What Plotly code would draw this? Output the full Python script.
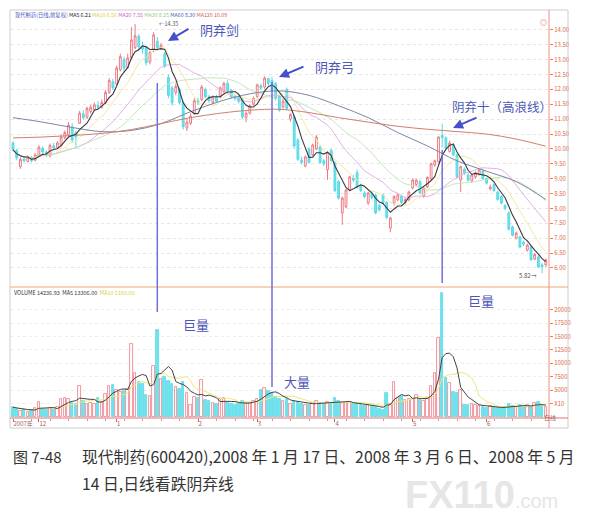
import numpy as np
import pandas as pd
import plotly.graph_objects as go

W, H = 590, 532
FONT = "Noto Sans CJK SC"

# daily bars, 2007-11-22 .. 2008-06 (600420)
opens = [10.20, 9.95, 9.40, 9.66, 9.58, 9.70, 9.62, 9.76, 10.02, 9.90,
         9.76, 10.10, 10.04, 10.12, 10.38, 10.48, 10.74, 10.55, 10.86, 11.18,
         11.06, 11.26, 11.32, 11.46, 11.40, 11.55, 11.90, 12.26, 12.18, 12.66,
         13.00, 12.74, 13.06, 13.40, 13.78, 13.45, 13.40, 12.92, 13.33, 13.62,
         13.40, 13.20, 12.40, 12.05, 11.90, 12.00, 11.55, 10.70, 10.86, 11.20,
         11.62, 11.66, 12.00, 11.75, 11.56, 11.76, 11.74, 11.92, 12.20, 11.98,
         11.76, 11.72, 11.66, 11.05, 11.20, 11.50, 11.76, 12.12, 12.08, 12.36,
         12.30, 12.20, 11.76, 11.40, 12.00, 11.00, 11.08, 10.30, 9.62, 9.42,
         10.00, 9.80, 10.00, 10.06, 9.60, 9.30, 9.95, 9.53, 8.90, 7.85,
         8.05, 8.62, 9.02, 9.20, 8.72, 8.52, 8.18, 8.50, 8.45, 8.10,
         8.45, 8.20, 7.34, 8.18, 8.29, 8.40, 8.20, 8.29, 8.69, 8.80,
         8.90, 8.42, 8.72, 9.00, 9.46, 9.58, 10.45, 10.37, 9.92, 10.15,
         9.80, 8.96, 9.32, 9.12, 8.92, 9.06, 9.14, 9.26, 9.00, 8.66,
         8.80, 8.55, 8.40, 8.10, 7.85, 7.38, 7.00, 7.04, 6.86, 6.60,
         6.70, 6.30, 6.37, 6.10, 6.10]
highs = [10.26, 10.00, 9.72, 9.76, 9.78, 9.76, 9.86, 10.12, 10.08, 9.95,
         10.18, 10.20, 10.26, 10.48, 10.62, 10.90, 10.86, 10.62, 11.28, 11.30,
         11.42, 11.48, 11.56, 11.60, 11.66, 11.98, 12.38, 12.36, 12.80, 13.20,
         13.10, 13.20, 14.10, 14.20, 13.86, 13.60, 13.46, 13.30, 13.92, 13.76,
         13.56, 13.26, 12.50, 12.12, 12.20, 12.06, 11.62, 11.00, 11.20, 11.70,
         11.72, 12.15, 12.06, 11.82, 11.80, 11.82, 12.10, 12.26, 12.30, 12.02,
         11.84, 11.78, 11.72, 11.26, 11.50, 11.76, 12.20, 12.20, 12.44, 12.40,
         12.42, 12.24, 11.80, 11.68, 12.06, 11.20, 11.14, 10.36, 9.74, 9.78,
         10.06, 10.18, 10.47, 10.12, 9.66, 9.92, 10.00, 9.58, 8.96, 8.40,
         8.66, 9.10, 9.12, 9.30, 8.80, 8.58, 8.56, 8.58, 8.50, 8.16,
         8.50, 8.24, 7.72, 8.44, 8.50, 8.46, 8.36, 8.60, 9.00, 9.00,
         8.96, 8.72, 9.08, 9.54, 9.64, 10.42, 10.85, 10.42, 10.28, 10.20,
         9.84, 9.44, 9.38, 9.18, 9.16, 9.24, 9.34, 9.30, 9.04, 8.80,
         8.84, 8.60, 8.44, 8.14, 7.90, 7.42, 7.22, 7.08, 6.92, 6.82,
         6.74, 6.50, 6.42, 6.16, 6.32]
lows = [9.92, 9.62, 9.33, 9.55, 9.54, 9.55, 9.58, 9.72, 9.84, 9.72,
        9.72, 9.98, 10.00, 10.06, 10.32, 10.42, 10.22, 10.05, 10.84, 10.98,
        11.00, 11.18, 11.28, 11.32, 11.35, 11.50, 11.85, 11.98, 12.14, 12.60,
        12.60, 12.70, 13.00, 13.35, 13.30, 13.20, 12.80, 12.84, 13.25, 13.30,
        13.32, 12.72, 11.70, 11.45, 11.80, 11.50, 10.65, 10.60, 10.80, 11.15,
        11.48, 11.60, 11.70, 11.55, 11.50, 11.55, 11.70, 11.88, 11.90, 11.70,
        11.62, 11.52, 11.00, 10.90, 11.15, 11.45, 11.72, 11.98, 12.02, 12.12,
        11.90, 11.62, 11.25, 11.35, 11.30, 10.92, 10.02, 9.60, 9.48, 9.38,
        9.50, 9.76, 9.96, 9.50, 9.42, 8.96, 9.55, 8.55, 8.30, 7.45,
        8.00, 8.58, 8.88, 8.66, 8.55, 8.34, 8.12, 8.30, 7.80, 7.90,
        8.12, 7.64, 7.20, 8.10, 8.24, 8.15, 8.14, 8.24, 8.64, 8.74,
        8.48, 8.36, 8.68, 8.94, 9.40, 9.54, 10.05, 9.96, 9.88, 9.76,
        9.02, 8.55, 9.12, 8.90, 8.86, 9.00, 9.10, 8.96, 8.80, 8.60,
        8.56, 8.26, 8.14, 7.94, 7.26, 7.06, 6.96, 6.66, 6.74, 6.55,
        6.24, 6.26, 6.00, 5.82, 6.04]
closes = [9.97, 9.70, 9.65, 9.60, 9.72, 9.60, 9.80, 10.06, 9.90, 9.78,
          10.12, 10.04, 10.20, 10.40, 10.55, 10.80, 10.30, 10.40, 11.20, 11.05,
          11.36, 11.40, 11.48, 11.40, 11.56, 11.90, 12.30, 12.05, 12.72, 13.10,
          12.72, 13.06, 13.66, 13.80, 13.43, 13.35, 12.90, 13.23, 13.83, 13.40,
          13.48, 12.78, 11.80, 11.55, 12.10, 11.55, 10.75, 10.90, 11.10, 11.62,
          11.55, 12.08, 11.75, 11.62, 11.75, 11.60, 12.05, 12.20, 11.95, 11.75,
          11.70, 11.60, 11.08, 11.20, 11.45, 11.70, 12.15, 12.04, 12.38, 12.20,
          11.98, 11.70, 11.30, 11.60, 11.36, 11.15, 10.10, 9.65, 9.55, 9.73,
          9.55, 10.13, 10.40, 9.55, 9.50, 9.87, 9.60, 8.60, 8.35, 8.35,
          8.62, 9.06, 8.95, 8.72, 8.60, 8.40, 8.52, 8.35, 7.85, 7.95,
          8.18, 7.70, 7.68, 8.40, 8.45, 8.20, 8.30, 8.55, 8.96, 8.95,
          8.52, 8.68, 9.04, 9.50, 9.60, 10.40, 10.38, 10.03, 10.20, 9.80,
          9.06, 9.40, 9.20, 8.95, 9.13, 9.20, 9.30, 9.00, 8.85, 8.72,
          8.60, 8.30, 8.18, 8.00, 7.30, 7.10, 7.17, 6.70, 6.80, 6.77,
          6.27, 6.45, 6.03, 6.05, 6.27]
volumes = [1800, 1500, 1200, 1400, 1000, 1300, 1600, 2800, 1500, 1300,
           1700, 1500, 1800, 3400, 3500, 3300, 2600, 2400, 5800, 3000,
           2500, 2700, 2400, 3500, 2800, 4300, 5800, 6000, 5000, 4600,
           4800, 5200, 13600, 8200, 6500, 6200, 4100, 3900, 9500, 16200,
           7000, 7500, 6800, 6200, 5600, 5200, 6500, 4500, 2200, 3800,
           3600, 6900, 3200, 2900, 2600, 2400, 3300, 3500, 2800, 2500,
           2300, 2400, 3000, 2700, 2600, 2900, 3400, 5000, 5400, 4800,
           4400, 3800, 3400, 3000, 3300, 2400, 3000, 2800, 2500, 2300,
           2200, 2600, 2900, 2700, 2400, 2800, 2500, 3500, 2900, 2700,
           2600, 2800, 2400, 2500, 2200, 2000, 2300, 2100, 1800, 1500,
           1300, 4400, 2500, 6600, 3500, 4000, 3100, 3300, 3400, 4100,
           3200, 2900, 3600, 5800, 8200, 14700, 23100, 7300, 6300, 4700,
           4400, 5000, 2300, 2200, 2400, 2300, 2100, 1800, 1700, 2000,
           1900, 1700, 1600, 1800, 2400, 2100, 1900, 2200, 2000, 2300,
           1900, 2600, 2800, 2000, 1800]

# long averages (they need history before the window)
ma_idx = [0, 8, 16, 24, 32, 40, 48, 56, 64, 72, 80, 88, 96, 104, 112, 120, 128, 136, 144]
ma60_val = [11.05, 10.90, 10.72, 10.58, 10.62, 10.85, 11.25, 11.60, 11.85, 11.95,
            11.80, 11.45, 11.05, 10.55, 10.10, 9.60, 9.25, 8.90, 8.30]
ma120_val = [10.37, 10.40, 10.45, 10.52, 10.65, 10.85, 11.05, 11.20, 11.30, 11.33,
             11.22, 11.05, 10.90, 10.76, 10.66, 10.58, 10.50, 10.33, 10.09]

month_pos = [0, 7, 28, 50, 66, 87, 108, 128]
month_txt = ["2007年", "12", "1", "2", "3", "4", "5", "6"]

price_ticks = [6.0, 6.5, 7.0, 7.5, 8.0, 8.5, 9.0, 9.5, 10.0, 10.5,
               11.0, 11.5, 12.0, 12.5, 13.0, 13.5, 14.0]
vol_ticks = [2500, 5000, 7500, 10000, 12500, 15000, 17500, 20000]
vol_tick_txt = ["X10", "5000", "7500", "10000", "12500", "15000", "17500", "20000"]

events = [39, 70, 116]   # 2008-01-17, 2008-03-06, 2008-05-14


def px(x):
    return x / W


def py(y):
    return 1 - y / H


idx = list(range(len(closes)))
cl = pd.Series(closes)
ma5 = cl.rolling(5, min_periods=1).mean()
ma10 = cl.rolling(10, min_periods=1).mean()
ma20 = cl.rolling(20, min_periods=1).mean()
ma30 = cl.rolling(30, min_periods=1).mean()
vs = pd.Series(volumes)
vma5 = vs.rolling(5, min_periods=1).mean()
vma10 = vs.rolling(10, min_periods=1).mean()

UP = "#ec7a84"
DN = "#58d8e6"
up = [c >= o for o, c in zip(opens, closes)]

fig = go.Figure()

fig.add_trace(go.Candlestick(
    x=idx, open=opens, high=highs, low=lows, close=closes,
    increasing=dict(line=dict(color=UP, width=1), fillcolor="#ffffff"),
    decreasing=dict(line=dict(color=DN, width=1), fillcolor="#72e4ee"),
    whiskerwidth=0, xaxis="x", yaxis="y"))

for s, col, w in [(ma10, "#efe79a", 0.9), (ma20, "#e0a8e0", 0.9), (ma30, "#bce4b4", 0.9)]:
    fig.add_trace(go.Scatter(x=idx, y=s, mode="lines", line=dict(color=col, width=w),
                             xaxis="x", yaxis="y"))
fig.add_trace(go.Scatter(x=ma_idx, y=ma60_val, mode="lines",
                         line=dict(color="#7c86a6", width=1, shape="spline"), xaxis="x", yaxis="y"))
fig.add_trace(go.Scatter(x=ma_idx, y=ma120_val, mode="lines",
                         line=dict(color="#d0806a", width=1, shape="spline"), xaxis="x", yaxis="y"))
fig.add_trace(go.Scatter(x=idx, y=ma5, mode="lines", line=dict(color="#3a3a3a", width=1.1),
                         xaxis="x", yaxis="y"))

fig.add_trace(go.Bar(
    x=idx, y=volumes, width=0.68,
    marker=dict(color=["#ffffff" if u else "#72e4ee" for u in up],
                line=dict(color=[UP if u else DN for u in up], width=0.8)),
    xaxis="x2", yaxis="y2"))
fig.add_trace(go.Scatter(x=idx, y=vma10, mode="lines", line=dict(color="#ece87a", width=1),
                         xaxis="x2", yaxis="y2"))
fig.add_trace(go.Scatter(x=idx, y=vma5, mode="lines", line=dict(color="#444444", width=1),
                         xaxis="x2", yaxis="y2"))

xr = [(11 - 13) / 3.7, (549 - 13) / 3.7]
xdom = [px(11), px(549)]
tickfont = dict(family=FONT, size=6, color="#e06848")

fig.update_layout(
    width=W, height=H, margin=dict(l=0, r=0, t=0, b=0),
    paper_bgcolor="white", plot_bgcolor="white", showlegend=False,
    bargap=0,
    xaxis=dict(domain=xdom, range=xr, anchor="y", showticklabels=False, showgrid=False,
               zeroline=False, rangeslider=dict(visible=False), fixedrange=True),
    yaxis=dict(domain=[py(287), py(12)], range=[5.36, 14.6], side="right", anchor="x",
               tickvals=price_ticks, tickformat=".2f", ticks="outside", ticklen=3,
               tickcolor="#e87a60", tickfont=tickfont, showgrid=True, gridcolor="#e6e6e6",
               griddash="dot", zeroline=False),
    xaxis2=dict(domain=xdom, range=xr, anchor="y2", tickvals=month_pos, ticktext=month_txt,
                ticks="outside", ticklen=3, tickcolor="#d06060", ticklabelposition="outside right",
                tickfont=dict(family=FONT, size=6, color="#a06060"), showgrid=False,
                zeroline=False, minor=dict(dtick=5, ticks="outside", ticklen=2, tickcolor="#e09090")),
    yaxis2=dict(domain=[py(418), py(289)], range=[-190, 23880], side="right", anchor="x2",
                tickvals=vol_ticks, ticktext=vol_tick_txt, ticks="outside", ticklen=3,
                tickcolor="#e87a60", tickfont=tickfont, showgrid=True, gridcolor="#ececec",
                griddash="dot", zeroline=False),
)

shapes = [
    dict(type="rect", xref="paper", yref="paper", x0=px(10), x1=px(568), y0=py(428), y1=py(10),
         line=dict(color="#cccccc", width=1)),
    dict(type="line", xref="paper", yref="paper", x0=px(10), x1=px(568), y0=py(287), y1=py(287),
         line=dict(color="#f0a878", width=1.2)),
    dict(type="line", xref="paper", yref="paper", x0=px(10), x1=px(568), y0=py(418), y1=py(418),
         line=dict(color="#e87070", width=1.2)),
    dict(type="line", xref="paper", yref="paper", x0=px(549), x1=px(549), y0=py(428), y1=py(10),
         line=dict(color="#f09080", width=1)),
]
# vertical marker lines at the three signal days
for e, (y_top, y_bot) in zip(events, [(83, 312), (82, 387), (150, 283)]):
    shapes.append(dict(type="line", xref="x", yref="paper", x0=e, x1=e, y0=py(y_bot), y1=py(y_top),
                       line=dict(color="#6e6edc", width=1.5)))
fig.update_layout(shapes=shapes)

BLUE = "#4d56b8"
ann = []
legend = ('<span style="color:#5060c0">现代制药(日线,前复权)</span> '
          f'<span style="color:#222">MA5 {ma5.iloc[-1]:.2f}</span> '
          f'<span style="color:#e0d040">MA10 {ma10.iloc[-1]:.2f}</span> '
          f'<span style="color:#d060d0">MA20 {ma20.iloc[-1]:.2f}</span> '
          f'<span style="color:#90d080">MA30 {ma30.iloc[-1]:.2f}</span> '
          f'<span style="color:#5060c0">MA60 {ma60_val[-1]:.2f}</span> '
          f'<span style="color:#d06050">MA120 {ma120_val[-1]:.2f}</span>')
ann.append(dict(x=px(13), y=py(15), xref="paper", yref="paper", text=legend, showarrow=False,
                xanchor="left", yanchor="middle", font=dict(family=FONT, size=5.3)))
vlegend = ('<span style="color:#333">VOLUME 14236.93  MA5 13306.00</span>  '
           f'<span style="color:#e0d040">MA10 {vma10.iloc[-1]:.2f}</span>')
ann.append(dict(x=px(12), y=py(293), xref="paper", yref="paper", text=vlegend, showarrow=False,
                xanchor="left", yanchor="middle", font=dict(family=FONT, size=5.5)))
ann.append(dict(x=px(157), y=py(24), xref="paper", yref="paper", text="←14.35", showarrow=False,
                xanchor="left", yanchor="middle", font=dict(family=FONT, size=5.5, color="#555")))
ann.append(dict(x=px(539), y=py(275), xref="paper", yref="paper", text="5.82→", showarrow=False,
                xanchor="right", yanchor="middle", font=dict(family=FONT, size=6, color="#555")))
ann.append(dict(x=px(549), y=py(15), xref="paper", yref="paper", text="◎", showarrow=False,
                font=dict(family=FONT, size=7, color="#e07060")))
ann.append(dict(x=px(558), y=py(424), xref="paper", yref="paper", text="日线", showarrow=False,
                font=dict(family=FONT, size=6, color="#a06060")))

labels = [("阴弃剑", 198, 30, 13), ("阴弃弓", 313, 66, 13), ("阴弃十（高浪线）", 450, 107, 12.5),
          ("巨量", 181, 324, 13), ("大量", 282, 381, 13), ("巨量", 466, 300, 13)]
for t, x, y, s in labels:
    ann.append(dict(x=px(x), y=py(y), xref="paper", yref="paper", text=t, showarrow=False,
                    xanchor="left", yanchor="middle", font=dict(family=FONT, size=s, color=BLUE)))
arrows = [(168, 41, 22, -13), (279, 77, 26, -11), (453, 128, 25, -11)]
for x, y, dx, dy in arrows:
    ann.append(dict(x=px(x), y=py(y), xref="paper", yref="paper", text="", showarrow=True,
                    ax=dx, ay=dy, arrowhead=2, arrowsize=1, arrowwidth=2, arrowcolor="#4650c8"))

ann.append(dict(x=px(11), y=py(456), xref="paper", yref="paper", text="图 7-48", showarrow=False,
                xanchor="left", yanchor="middle", font=dict(family=FONT, size=15, color="#333")))
ann.append(dict(x=px(80), y=py(456), xref="paper", yref="paper",
                text="现代制药(600420),2008 年 1 月 17 日、2008 年 3 月 6 日、2008 年 5 月",
                showarrow=False, xanchor="left", yanchor="middle",
                font=dict(family=FONT, size=15.8, color="#333")))
ann.append(dict(x=px(80), y=py(483), xref="paper", yref="paper", text="14 日,日线看跌阴弃线",
                showarrow=False, xanchor="left", yanchor="middle",
                font=dict(family=FONT, size=15.8, color="#333")))
ann.append(dict(x=px(560), y=py(495), xref="paper", yref="paper",
                text='<b>FX110</b><span style="font-size:20px">.com</span>', showarrow=False,
                xanchor="right", yanchor="middle",
                font=dict(family="Liberation Sans", size=38, color="#e6e6e6")))
fig.update_layout(annotations=ann)

fig.write_html("out.html", config={"displayModeBar": False},
               post_script="document.body.style.margin='0';")
